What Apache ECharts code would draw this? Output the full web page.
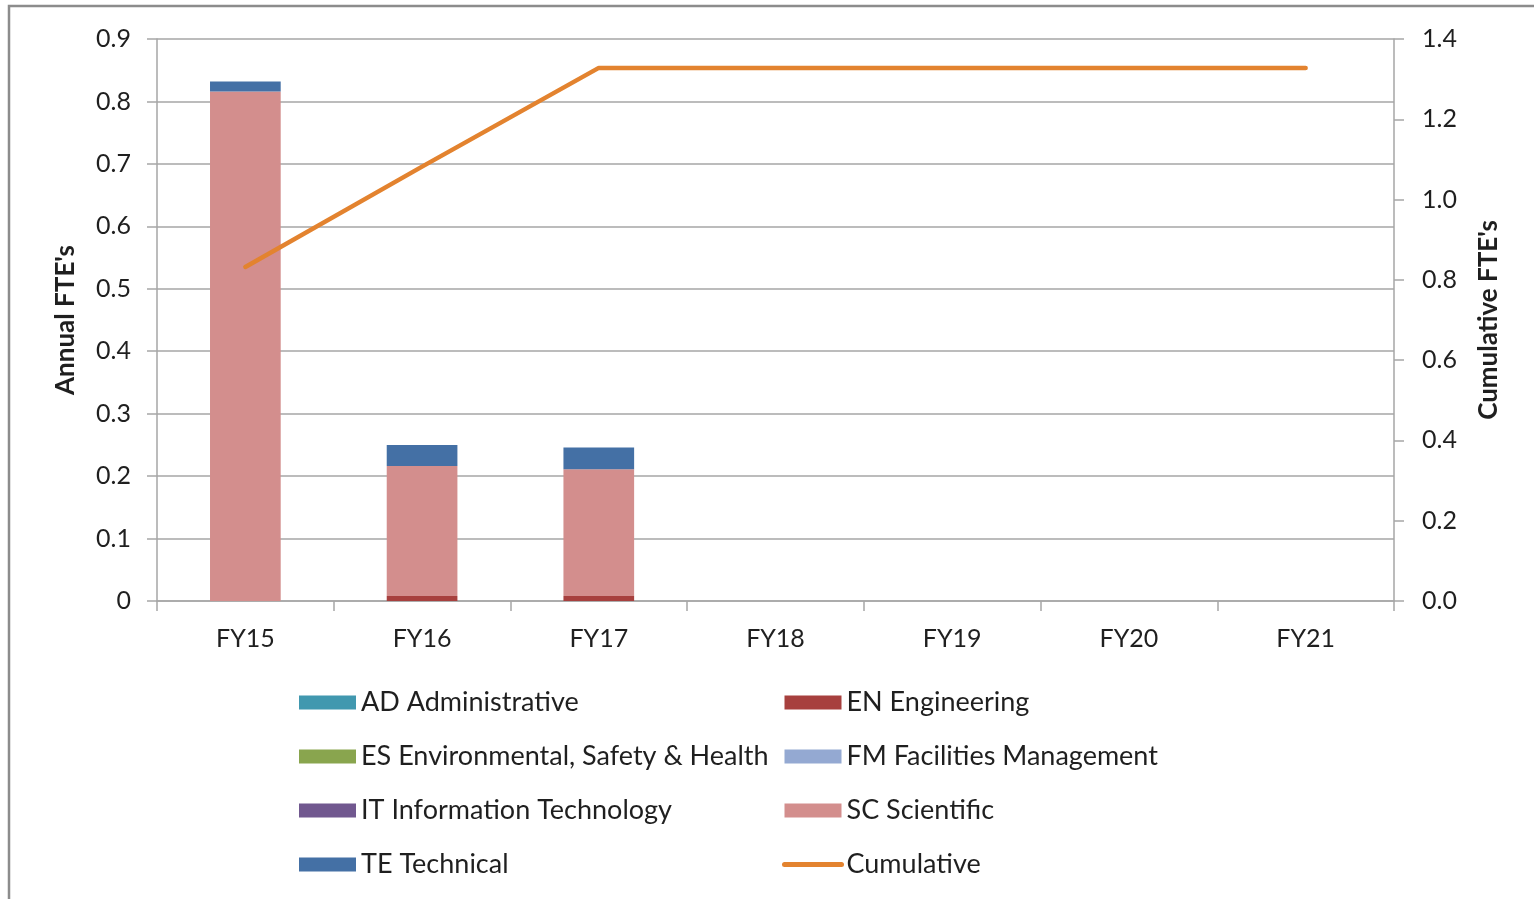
<!DOCTYPE html>
<html>
<head>
<meta charset="utf-8">
<script src="https://cdn.jsdelivr.net/npm/echarts@6/dist/echarts.min.js"></script>
<style>
  html, body { margin: 0; padding: 0; background: #fff; }
  #chart { width: 1534px; height: 899px; }
</style>
</head>
<body>
<div id="chart"></div>
<script>
// Fiscal years on the category axis
const years = ['FY15', 'FY16', 'FY17', 'FY18', 'FY19', 'FY20', 'FY21'];

// Annual FTE's by labor category (stacked bars)
const adAdministrative = [0, 0, 0, 0, 0, 0, 0];
const enEngineering    = [0, 0.008, 0.008, 0, 0, 0, 0];
const esEnvironmental  = [0, 0, 0, 0, 0, 0, 0];
const fmFacilities     = [0, 0, 0, 0, 0, 0, 0];
const itInformation    = [0, 0, 0, 0, 0, 0, 0];
const scScientific     = [0.816, 0.208, 0.203, 0, 0, 0, 0];
const teTechnical      = [0.016, 0.034, 0.035, 0, 0, 0, 0];

// Cumulative FTE's (right axis)
const cumulative = [0.832, 1.082, 1.328, 1.328, 1.328, 1.328, 1.328];

// Axis ranges
const leftMax = 0.9, leftStep = 0.1;
const rightMax = 1.4, rightStep = 0.2;

const FONT = 'Lato, "Open Sans", sans-serif';
const TEXT = '#1f1f1f';
const GRID_LINE = '#a6a6a6';
const LINE_COLOR = '#E3832F';

const barSeries = [
  { name: 'AD Administrative', data: adAdministrative, color: '#4198AF' },
  { name: 'EN Engineering', data: enEngineering, color: '#A7403E' },
  { name: 'ES Environmental, Safety & Health', data: esEnvironmental, color: '#89A54E' },
  { name: 'FM Facilities Management', data: fmFacilities, color: '#94A9D2' },
  { name: 'IT Information Technology', data: itInformation, color: '#71588F' },
  { name: 'SC Scientific', data: scScientific, color: '#D38E8D' },
  { name: 'TE Technical', data: teTechnical, color: '#4470A5' }
].map(s => ({
  name: s.name,
  type: 'bar',
  stack: 'annual',
  yAxisIndex: 0,
  data: s.data,
  barCategoryGap: '60%',
  itemStyle: { color: s.color },
  emphasis: { disabled: true }
}));

const lineSeries = {
  name: 'Cumulative',
  type: 'line',
  yAxisIndex: 1,
  data: cumulative,
  symbol: 'none',
  lineStyle: { color: LINE_COLOR, width: 4.5, cap: 'round' },
  itemStyle: { color: LINE_COLOR },
  z: 5
};

const legendText = { fontFamily: FONT, fontSize: 27, color: TEXT, lineHeight: 26 };
const barItem = name => ({ name, icon: 'rect' });

const chart = echarts.init(document.getElementById('chart'), null, { renderer: 'canvas' });
chart.setOption({
  animation: false,
  backgroundColor: '#ffffff',
  grid: { left: 157, right: 140, top: 39, bottom: 298, containLabel: false },
  graphic: [{
    type: 'rect',
    shape: { x: 9, y: 6, width: 1700, height: 1100 },
    style: { fill: 'none', stroke: '#8c8c8c', lineWidth: 2.5 },
    silent: true
  }],
  legend: [
    {
      orient: 'vertical', left: 294, top: 684, itemGap: 27,
      itemWidth: 57, itemHeight: 14,
      textStyle: legendText,
      data: ['AD Administrative', 'ES Environmental, Safety & Health', 'IT Information Technology', 'TE Technical'].map(barItem)
    },
    {
      orient: 'vertical', left: 777, top: 684, itemGap: 27,
      itemWidth: 57, itemHeight: 14,
      textStyle: legendText,
      data: [
        ...['EN Engineering', 'FM Facilities Management', 'SC Scientific'].map(barItem),
        {
          name: 'Cumulative',
          itemStyle: { color: 'rgba(0,0,0,0)', borderWidth: 0 },
          lineStyle: { color: LINE_COLOR, width: 5, cap: 'round' }
        }
      ]
    }
  ],
  xAxis: {
    type: 'category',
    data: years,
    boundaryGap: true,
    axisLine: { lineStyle: { color: GRID_LINE, width: 1.5 } },
    axisTick: { show: true, length: 10, inside: false, lineStyle: { color: GRID_LINE, width: 1.5 } },
    axisLabel: { fontFamily: FONT, fontSize: 25, color: TEXT, margin: 25 }
  },
  yAxis: [
    {
      type: 'value', min: 0, max: leftMax, interval: leftStep,
      name: "Annual FTE's", nameLocation: 'middle', nameGap: 78, nameRotate: 90,
      nameTextStyle: { fontFamily: FONT, fontSize: 26, fontWeight: 'bold', color: TEXT },
      axisLine: { show: true, lineStyle: { color: GRID_LINE, width: 1.5 } },
      axisTick: { show: true, length: 10, lineStyle: { color: GRID_LINE, width: 1.5 } },
      splitLine: { show: true, lineStyle: { color: GRID_LINE, width: 1.5 } },
      axisLabel: {
        fontFamily: FONT, fontSize: 25, color: TEXT, margin: 26,
        formatter: v => (v === 0 ? '0' : v.toFixed(1))
      }
    },
    {
      type: 'value', min: 0, max: rightMax, interval: rightStep, position: 'right',
      name: "Cumulative FTE's", nameLocation: 'middle', nameGap: 82, nameRotate: 90,
      nameTextStyle: { fontFamily: FONT, fontSize: 26, fontWeight: 'bold', color: TEXT },
      axisLine: { show: true, lineStyle: { color: GRID_LINE, width: 1.5 } },
      axisTick: { show: true, length: 10, lineStyle: { color: GRID_LINE, width: 1.5 } },
      splitLine: { show: false },
      axisLabel: {
        fontFamily: FONT, fontSize: 25, color: TEXT, margin: 28,
        formatter: v => v.toFixed(1)
      }
    }
  ],
  series: [...barSeries, lineSeries]
});
</script>
</body>
</html>
